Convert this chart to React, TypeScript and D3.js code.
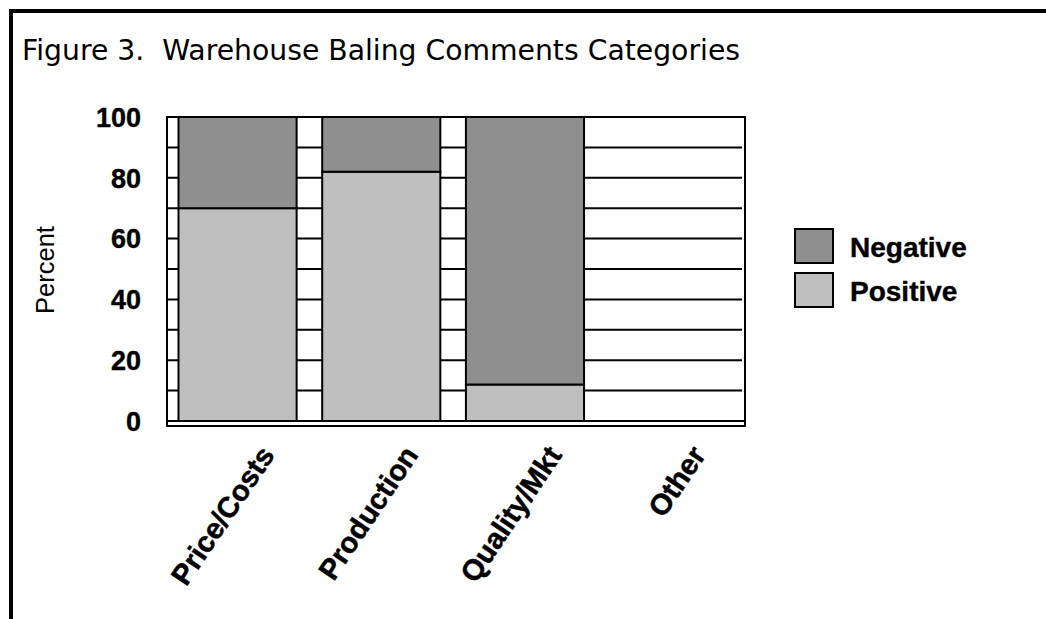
import React from "react";
import * as d3 from "d3";

const categories = ["Price/Costs", "Production", "Quality/Mkt", "Other"];
const positive = [70, 82, 12, 0];
const negative = [30, 18, 88, 0];
const yTicks = [0, 20, 40, 60, 80, 100];
const gridValues = [10, 20, 30, 40, 50, 60, 70, 80, 90];
const seriesNames = ["Negative", "Positive"];
const seriesColors = ["#8f8f8f", "#bfbfbf"];

const W = 1046;
const H = 619;
const plot = { left: 167, right: 745, top: 117, bottom: 421 };

export default function App() {
  const x = d3
    .scaleBand<string>()
    .domain(categories)
    .range([plot.left, plot.right])
    .paddingInner(0.178)
    .paddingOuter(0.1)
    .align(0.4);
  const y = d3.scaleLinear().domain([0, 100]).range([plot.bottom, plot.top]);

  const rows = categories.map((c, i) => ({ c, Positive: positive[i], Negative: negative[i] }));
  const stack = d3.stack<any>().keys(["Positive", "Negative"]);
  const stacked = stack(rows);
  const colorOf = (k: string) => seriesColors[seriesNames.indexOf(k)];

  return (
    <svg width={W} height={H} style={{ position: "absolute", left: 0, top: 0, background: "#fff" }}>
      <rect x={0} y={0} width={W} height={H} fill="#fff" />
      <rect x={11} y={11} width={1200} height={800} fill="none" stroke="#000" strokeWidth={4} />
      <text
        x={22}
        y={60}
        fontFamily="DejaVu Sans, Verdana, sans-serif"
        fontSize={27.5}
        fill="#000"
        textLength={718}
        lengthAdjust="spacingAndGlyphs"
        style={{ whiteSpace: "pre" }}
      >
        {"Figure 3.  Warehouse Baling Comments Categories"}
      </text>

      {/* gridlines */}
      {gridValues.map((v) => (
        <line key={v} x1={plot.left} x2={plot.right - 3} y1={y(v)} y2={y(v)} stroke="#000" strokeWidth={2} />
      ))}

      {/* bars */}
      {stacked.map((layer) =>
        layer.map((d, i) =>
          d[1] - d[0] > 0 ? (
            <rect
              key={layer.key + i}
              x={x(categories[i])!}
              width={x.bandwidth()}
              y={y(d[1])}
              height={y(d[0]) - y(d[1])}
              fill={colorOf(layer.key)}
              stroke="#000"
              strokeWidth={2}
            />
          ) : null
        )
      )}

      {/* plot border */}
      <path
        d={`M${plot.left},${plot.bottom} V${plot.top} H${plot.right} V${plot.bottom}`}
        fill="none"
        stroke="#000"
        strokeWidth={2}
      />
      <rect x={plot.left} y={plot.bottom} width={plot.right - plot.left} height={5} fill="#fff" stroke="#000" strokeWidth={2} />

      {/* y tick labels */}
      {yTicks.map((t) => (
        <text
          key={t}
          x={141}
          y={y(t)}
          dy="0.36em"
          textAnchor="end"
          fontFamily="Liberation Sans, Arial, sans-serif"
          fontWeight="bold"
          fontSize={27}
          fill="#000"
          stroke="#000"
          strokeWidth={0.4}
        >
          {t}
        </text>
      ))}

      <text
        transform={`translate(54, 270) rotate(-90)`}
        textAnchor="middle"
        fontFamily="Liberation Sans, Arial, sans-serif"
        fontSize={25.5}
        fill="#000"
      >
        Percent
      </text>

      {/* x labels */}
      {categories.map((c) => (
        <text
          key={c}
          transform={`translate(${x(c)! + x.bandwidth() / 2 + 38}, 455) rotate(-56)`}
          textAnchor="end"
          fontFamily="Liberation Sans, Arial, sans-serif"
          fontWeight="bold"
          fontSize={29}
          fill="#000"
          stroke="#000"
          strokeWidth={0.5}
        >
          {c}
        </text>
      ))}

      {/* legend */}
      {seriesNames.map((s, i) => (
        <g key={s} transform={`translate(795, ${229 + i * 44})`}>
          <rect x={0} y={0} width={38} height={34} fill={seriesColors[i]} stroke="#000" strokeWidth={2} />
          <text
            x={55}
            y={28}
            fontFamily="Liberation Sans, Arial, sans-serif"
            fontWeight="bold"
            fontSize={28}
            fill="#000"
            stroke="#000"
            strokeWidth={0.4}
          >
            {s}
          </text>
        </g>
      ))}
    </svg>
  );
}
